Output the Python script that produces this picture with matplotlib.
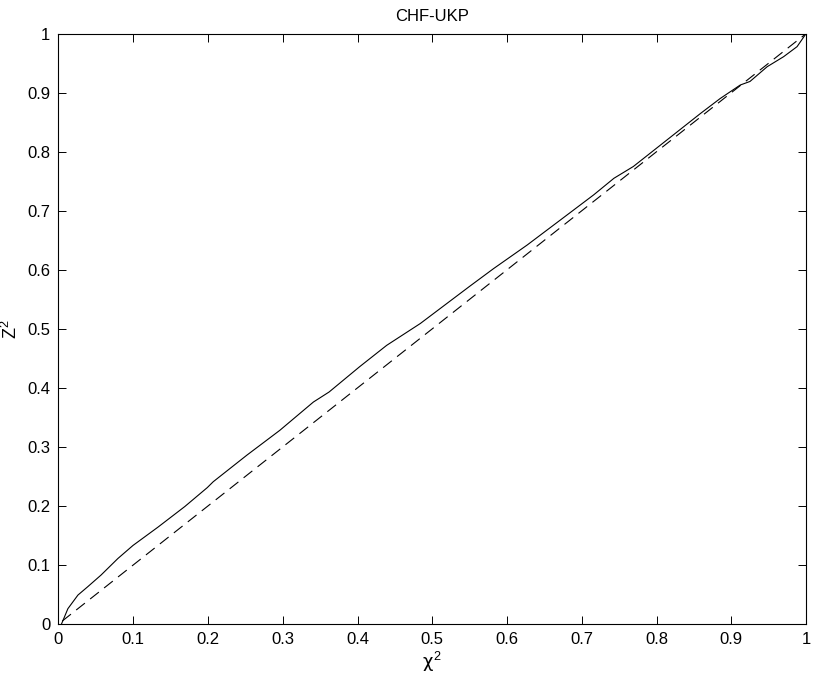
import matplotlib.pyplot as plt

plt.rcParams['font.family'] = ['Liberation Sans', 'DejaVu Sans']
plt.rcParams['mathtext.fontset'] = 'custom'
plt.rcParams['mathtext.rm'] = 'Liberation Sans'
plt.rcParams['mathtext.it'] = 'DejaVu Sans'

chi2 = [0.004, 0.006, 0.0126, 0.026, 0.039, 0.057, 0.0795, 0.0996, 0.133,
        0.169, 0.199, 0.207, 0.252, 0.296, 0.341, 0.362, 0.403, 0.439, 0.484,
        0.550, 0.582, 0.627, 0.671, 0.716, 0.743, 0.769, 0.814, 0.859, 0.885,
        0.912, 0.925, 0.948, 0.970, 0.988, 1.0]
z2 = [0.0, 0.006, 0.026, 0.049, 0.063, 0.083, 0.111, 0.133, 0.164,
      0.199, 0.231, 0.241, 0.286, 0.328, 0.376, 0.393, 0.436, 0.472, 0.509,
      0.572, 0.602, 0.642, 0.684, 0.727, 0.755, 0.775, 0.820, 0.865, 0.890,
      0.913, 0.919, 0.944, 0.961, 0.978, 1.0]

# reference diagonal
diag = [0.005, 1.0]

ticks = [0, 0.1, 0.2, 0.3, 0.4, 0.5, 0.6, 0.7, 0.8, 0.9, 1]
tick_labels = ['0', '0.1', '0.2', '0.3', '0.4', '0.5', '0.6', '0.7', '0.8', '0.9', '1']

fig = plt.figure(figsize=(8.17, 6.77), dpi=100)
ax = fig.add_axes([0.0716, 0.0783, 0.915, 0.872])

ax.plot(chi2, z2, color='black', lw=0.8)
ax.plot(diag, diag, color='black', lw=0.8, linestyle=(0, (10, 6)))

ax.set_xlim(0, 1)
ax.set_ylim(0, 1)
ax.set_xticks(ticks)
ax.set_xticklabels(tick_labels)
ax.set_yticks(ticks)
ax.set_yticklabels(tick_labels)
ax.tick_params(direction='in', top=True, right=True, length=5.5, width=0.7,
               labelsize=12, pad=6)
for s in ax.spines.values():
    s.set_linewidth(0.8)

ax.set_title('CHF-UKP', fontsize=12, pad=9)
ax.set_xlabel(r'$\chi^2$', fontsize=13, labelpad=2)
ax.set_ylabel(r'$\mathrm{Z}^2$', fontsize=13, labelpad=4)

fig.savefig('out.png', dpi=100)
